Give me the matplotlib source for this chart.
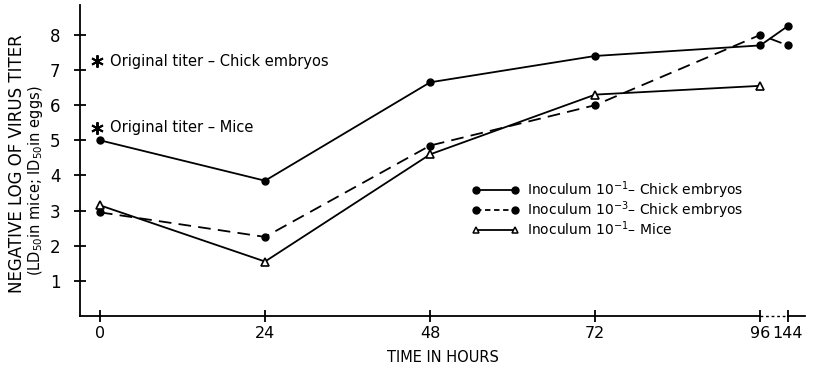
import numpy as np
import matplotlib
matplotlib.use("Agg")
import matplotlib.pyplot as plt
from matplotlib.lines import Line2D

# hours (144 h is drawn after a break, at plotting position 100)
hours = [0, 24, 48, 72, 96, 144]
hour_pos = [0, 24, 48, 72, 96, 100]

chick_1 = [5.0, 3.85, 6.65, 7.4, 7.7, 8.25]     # inoculum 10^-1, chick embryos
chick_3 = [2.95, 2.25, 4.85, 6.0, 8.0, 7.7]     # inoculum 10^-3, chick embryos
mice_1 = [3.15, 1.55, 4.6, 6.3, 6.55]           # inoculum 10^-1, mice

orig_titer_chick = 7.25
orig_titer_mice = 5.35

plt.rcParams['font.family'] = ['DejaVu Sans']
fig = plt.figure(figsize=(8.13, 3.69), dpi=100)
ax = fig.add_axes([80/813, 1-316/369, 725/813, 311/369])

lw = 1.3
ax.plot(hour_pos, chick_1, '-', color='black', lw=lw, marker='o', ms=5)
ax.plot(hour_pos, chick_3, color='black', lw=lw, ls=(0, (7, 4)), marker='o', ms=5)
ax.plot(hour_pos[:len(mice_1)], mice_1, '-', color='black', lw=lw, marker='^', ms=6,
        mfc='white', mew=1.2)

# original titers
ax.plot([-0.4], [orig_titer_chick], marker=(6, 2, 0), color='black', ms=9, mew=1.4)
ax.text(1.4, orig_titer_chick, 'Original titer – Chick embryos', va='center', fontsize=10.5)
ax.plot([-0.4], [orig_titer_mice], marker=(6, 2, 0), color='black', ms=9, mew=1.4)
ax.text(1.4, orig_titer_mice, 'Original titer – Mice', va='center', fontsize=10.5)

handles = [
    Line2D([], [], color='black', lw=lw, marker='o', ms=5),
    Line2D([], [], color='black', lw=lw, ls=(0, (3, 2)), marker='o', ms=5),
    Line2D([], [], color='black', lw=lw, marker='^', ms=5, mfc='white', mew=1.1),
]
labels = ['Inoculum 10$^{-1}$– Chick embryos',
          'Inoculum 10$^{-3}$– Chick embryos',
          'Inoculum 10$^{-1}$– Mice']
ax.legend(handles, labels, numpoints=2, frameon=False, fontsize=10,
          loc='upper left', bbox_to_anchor=(0.527, 0.47), handlelength=3.4,
          handletextpad=0.6, labelspacing=-0.12, borderpad=0.2)

xmin, xmax = -2.9, 102.5
ax.set_xlim(xmin, xmax)
ax.set_ylim(0, 8.85)

ax.spines['top'].set_visible(False)
ax.spines['right'].set_visible(False)
ax.spines['bottom'].set_visible(False)
ax.spines['left'].set_linewidth(1.3)

# broken time axis
ax.plot([xmin, 96], [0, 0], color='black', lw=1.3, clip_on=False)
ax.plot([96, 100], [0, 0], color='black', lw=1.0, ls=(0, (2, 2)), clip_on=False)
ax.plot([100, xmax], [0, 0], color='black', lw=1.3, clip_on=False)

ax.set_xticks(hour_pos)
ax.set_xticklabels([str(h) for h in hours], fontsize=11.5)
ax.set_yticks(range(1, 9))
ax.set_yticklabels([str(v) for v in range(1, 9)], fontsize=12)
ax.tick_params(axis='x', direction='inout', length=9, width=1.3, pad=3)
ax.tick_params(axis='y', direction='inout', length=8, width=1.3, pad=10)

ax.set_xlabel('TIME IN HOURS', fontsize=10.5, labelpad=6)
fig.text(17/813, 1-164/369, 'NEGATIVE LOG OF VIRUS TITER', rotation=90,
         ha='center', va='center', fontsize=12)
fig.text(36/813, 1-181/369, '(LD$_{50}$in mice; ID$_{50}$in eggs)', rotation=90,
         ha='center', va='center', fontsize=10.5)

fig.savefig('out.png', dpi=100)
